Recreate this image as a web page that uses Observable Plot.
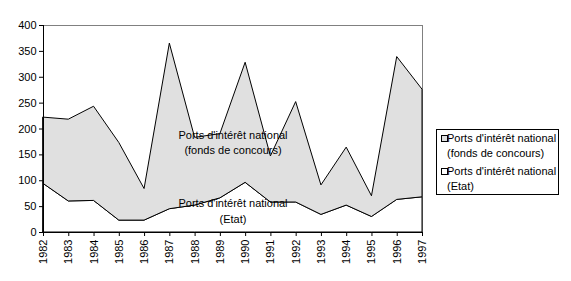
<!DOCTYPE html>
<html>
<head>
<meta charset="utf-8">
<script src="https://cdn.jsdelivr.net/npm/d3@7"></script>
<script src="https://cdn.jsdelivr.net/npm/@observablehq/plot@0.6"></script>
<style>
  html, body { margin: 0; padding: 0; background: white; }
  #wrap { position: relative; width: 571px; height: 281px; font-family: "Liberation Sans", Arial, sans-serif; font-size: 11px; color: black; }
  #legend { position: absolute; left: 436px; top: 129px; width: 123px; height: 66px; border: 1px solid black; box-sizing: border-box; background: white; }
  .item { position: absolute; left: 10px; line-height: 14.5px; white-space: nowrap; }
  .swatch { position: absolute; left: 4px; width: 5px; height: 5px; border: 1px solid black; box-sizing: content-box; }
</style>
</head>
<body>
<div id="wrap"></div>
<script>
const years = [1982, 1983, 1984, 1985, 1986, 1987, 1988, 1989, 1990, 1991, 1992, 1993, 1994, 1995, 1996, 1997];
const etat  = [94, 60, 61, 23, 23, 45, 52, 66, 96, 58, 58, 34, 52, 30, 63, 68];
const fonds = [128, 158, 182, 150, 61, 320, 131, 124, 232, 89, 194, 57, 112, 40, 276, 208];
const seriesNames = ["Ports d'intérêt national\n(Etat)", "Ports d'intérêt national\n(fonds de concours)"];
const seriesColors = ["#ffffff", "#e0e0e0"];
const yTicks = [0, 50, 100, 150, 200, 250, 300, 350, 400];
const annotations = [
  {year: 1989.5, value: 176, text: seriesNames[1]},
  {year: 1989.5, value: 44, text: seriesNames[0]}
];

const data = years.flatMap((y, i) => [
  {year: y, series: seriesNames[0], value: etat[i]},
  {year: y, series: seriesNames[1], value: fonds[i]}
]);

const chart = Plot.plot({
  width: 571,
  height: 281,
  marginLeft: 43,
  marginRight: 149,
  marginTop: 25,
  marginBottom: 49,
  style: {fontFamily: "'Liberation Sans', Arial, sans-serif", fontSize: "11px", background: "white", color: "black", overflow: "visible"},
  x: {type: "linear", domain: [years[0], years[years.length - 1]]},
  y: {domain: [0, 400]},
  color: {domain: seriesNames, range: seriesColors},
  marks: [
    Plot.frame({stroke: "#808080"}),
    Plot.areaY(data, Plot.stackY({
      x: "year", y: "value", z: "series", fill: "series",
      order: seriesNames, stroke: "black", strokeWidth: 1, strokeLinejoin: "miter"
    })),
    Plot.ruleX([years[0]], {stroke: "black"}),
    Plot.ruleY([0], {stroke: "black"}),
    Plot.axisX({ticks: years, tickFormat: d => String(d), tickRotate: -90, tickSize: 4, tickPadding: 3, label: null, fontSize: 11}),
    Plot.axisY({ticks: yTicks, tickSize: 4, tickPadding: 3, label: null, fontSize: 11}),
    Plot.text(annotations, {x: "year", y: "value", text: "text", lineHeight: 1.45, fontSize: 11, fill: "black"})
  ]
});

const wrap = document.getElementById("wrap");
wrap.appendChild(chart);

const legend = document.createElement("div");
legend.id = "legend";
const legendItems = [
  {name: seriesNames[1], color: seriesColors[1], top: 1},
  {name: seriesNames[0], color: seriesColors[0], top: 34}
];
for (const it of legendItems) {
  const sw = document.createElement("div");
  sw.className = "swatch";
  sw.style.top = (it.top + 4) + "px";
  sw.style.background = it.color;
  legend.appendChild(sw);
  const tx = document.createElement("div");
  tx.className = "item";
  tx.style.top = it.top + "px";
  tx.innerHTML = it.name.split("\n").join("<br>");
  legend.appendChild(tx);
}
wrap.appendChild(legend);
</script>
</body>
</html>
